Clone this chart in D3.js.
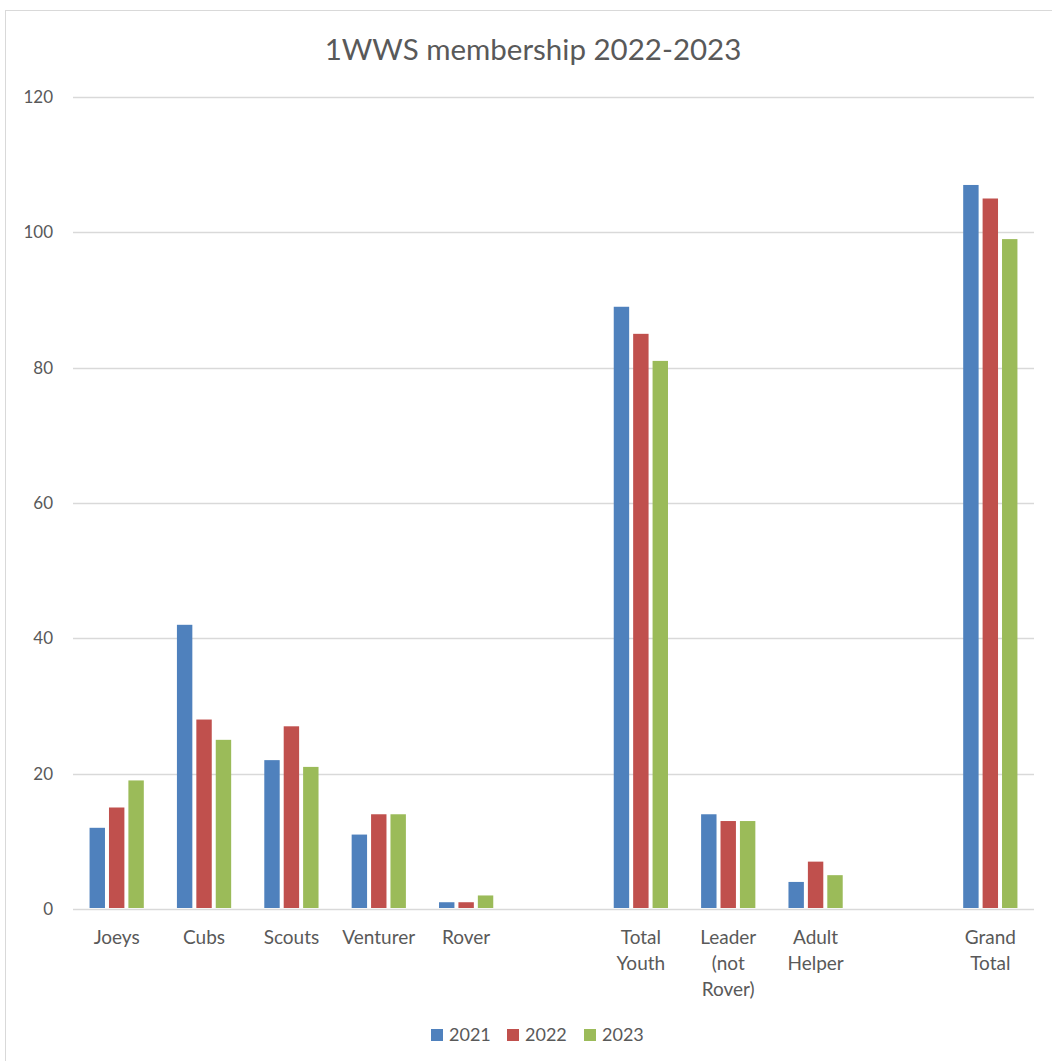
<!DOCTYPE html>
<html>
<head>
<meta charset="utf-8">
<script src="https://cdn.jsdelivr.net/npm/d3@7"></script>
<style>
  body { margin: 0; background: #fff; }
  text { font-family: Lato, "Liberation Sans", sans-serif; fill: #595959; }
</style>
</head>
<body>
<svg id="chart" width="1052" height="1061"></svg>
<script>
// categories (empty arrays = blank slots in the sheet)
const categories = [["Joeys"], ["Cubs"], ["Scouts"], ["Venturer"], ["Rover"], [],
                    ["Total", "Youth"], ["Leader", "(not", "Rover)"], ["Adult", "Helper"], [],
                    ["Grand", "Total"]];
const seriesNames = ["2021", "2022", "2023"];
const values2021 = [12, 42, 22, 11, 1, null, 89, 14, 4, null, 107];
const values2022 = [15, 28, 27, 14, 1, null, 85, 13, 7, null, 105];
const values2023 = [19, 25, 21, 14, 2, null, 81, 13, 5, null, 99];
const yTicks = [0, 20, 40, 60, 80, 100, 120];
const colors = ["#4F81BD", "#C0504D", "#9BBB59"];

const series = [values2021, values2022, values2023];

let svg = d3.select("#chart");
let plot = {left: 73, right: 1034, top: 97, bottom: 909};

// outer frame
svg.append("rect")
    .attr("x", 5.5).attr("y", 10.5)
    .attr("width", 1060).attr("height", 1060)
    .attr("fill", "none")
    .attr("stroke", "#D9D9D9");

// title
svg.append("text")
    .attr("x", 533).attr("y", 60)
    .attr("text-anchor", "middle")
    .style("font-size", "29.5px")
    .text("1WWS membership 2022-2023");

let x0 = d3.scaleBand()
    .domain(d3.range(categories.length))
    .range([plot.left, plot.right])
    .paddingInner(0);

// gap width 150% -> group occupies band * 3 / 4.5
let groupW = x0.bandwidth() * 3 / 4.5;
let x1 = d3.scaleBand()
    .domain(seriesNames)
    .range([(x0.bandwidth() - groupW) / 2, (x0.bandwidth() + groupW) / 2]);

let y = d3.scaleLinear().domain([0, 120]).range([plot.bottom, plot.top]);

// gridlines
svg.append("g")
    .selectAll("line")
    .data(yTicks)
    .join("line")
    .attr("x1", plot.left).attr("x2", plot.right)
    .attr("y1", d => Math.round(y(d)) + 0.5).attr("y2", d => Math.round(y(d)) + 0.5)
    .attr("stroke", "#D9D9D9")
    .attr("stroke-width", 1.3);

// y tick labels
svg.append("g")
    .selectAll("text")
    .data(yTicks)
    .join("text")
    .attr("x", 53)
    .attr("y", d => y(d))
    .attr("dy", "0.35em")
    .attr("text-anchor", "end")
    .style("font-size", "17px")
    .text(d => d);

// bars
let groups = svg.append("g")
    .selectAll("g")
    .data(series)
    .join("g")
    .attr("fill", (d, i) => colors[i]);

groups.selectAll("rect")
    .data((d, i) => d.map((v, j) => ({v: v, j: j, s: seriesNames[i]})).filter(d => d.v != null))
    .join("rect")
    .attr("x", d => x0(d.j) + x1(d.s) + 2)
    .attr("width", x1.bandwidth() - 4)
    .attr("y", d => y(d.v))
    .attr("height", d => y(0) - y(d.v) - 1);

// category labels
let cat = svg.append("g")
    .selectAll("text")
    .data(categories)
    .join("text")
    .attr("x", (d, i) => x0(i) + x0.bandwidth() / 2)
    .attr("y", 944)
    .attr("text-anchor", "middle")
    .style("font-size", "19px");

cat.selectAll("tspan")
    .data(d => d)
    .join("tspan")
    .attr("x", function() { return this.parentNode.getAttribute("x"); })
    .attr("dy", (d, i) => i === 0 ? 0 : 26)
    .text(d => d);

// legend
let legendX = [431, 507, 584];
let legend = svg.append("g")
    .selectAll("g")
    .data(seriesNames)
    .join("g")
    .attr("transform", (d, i) => `translate(${legendX[i]}, 1029)`);

legend.append("rect")
    .attr("width", 12).attr("height", 12)
    .attr("fill", (d, i) => colors[i]);

legend.append("text")
    .attr("x", 18).attr("y", 6)
    .attr("dy", "0.35em")
    .style("font-size", "18px")
    .text(d => d);
</script>
</body>
</html>
